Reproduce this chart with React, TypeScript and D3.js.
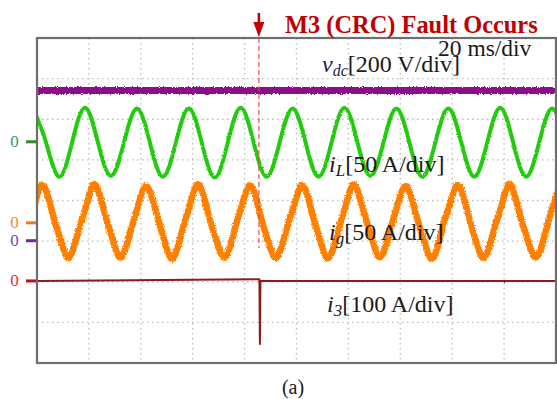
import React from "react";
import * as d3 from "d3";

// ---------- data ----------
// time axis: 10 divisions x 20 ms
const timeDomainMs = [0, 200];
const gridTimesMs = [20, 40, 60, 80, 100, 120, 140, 160, 180];
const gridDivs = [-3, -2, -1, 0, 1, 2, 3];
const faultTimeMs = 85.5;

// v_dc [V], 200 V/div
const vdcTimes = [0, 200];
const vdcValues = [740, 740];

// i_L [A], 50 A/div (peaks / zero crossings / troughs)
const iLTimes = [-1.5, 3.5, 8.5, 13.5, 18.5, 23.5, 28.5, 33.5, 38.5, 43.5, 48.5, 53.5, 58.5, 63.5, 68.5, 73.5, 78.5, 83.5, 88.5, 93.5, 98.5, 103.5, 108.5, 113.5, 118.5, 123.5, 128.5, 133.5, 138.5, 143.5, 148.5, 153.5, 158.5, 163.5, 168.5, 173.5, 178.5, 183.5, 188.5, 193.5, 198.5, 203.5];
const iLValues = [41, -1, -43, -1, 42, -1, -42, -1, 41, -1, -43, -1, 41, -1, -44, -1, 42, -1, -43, -1, 41, -1, -43, -1, 42, -1, -42, -1, 41, -1, -43, -1, 41, -1, -43, -1, 42, -1, -43, -1, 41, -1];

// i_g [A], 50 A/div (eighth-period samples)
const igTimes = [-0.8, 1.7, 4.2, 6.7, 9.2, 11.7, 14.2, 16.7, 19.2, 21.7, 24.2, 26.7, 29.2, 31.7, 34.2, 36.7, 39.2, 41.7, 44.2, 46.7, 49.2, 51.7, 54.2, 56.7, 59.2, 61.7, 64.2, 66.7, 69.2, 71.7, 74.2, 76.7, 79.2, 81.7, 84.2, 86.7, 89.2, 91.7, 94.2, 96.7, 99.2, 101.7, 104.2, 106.7, 109.2, 111.7, 114.2, 116.7, 119.2, 121.7, 124.2, 126.7, 129.2, 131.7, 134.2, 136.7, 139.2, 141.7, 144.2, 146.7, 149.2, 151.7, 154.2, 156.7, 159.2, 161.7, 164.2, 166.7, 169.2, 171.7, 174.2, 176.7, 179.2, 181.7, 184.2, 186.7, 189.2, 191.7, 194.2, 196.7, 199.2, 201.7];
const igValues = [24,
  46, 33, 3, -22, -43, -30, -2, 23,
  47, 34, 5, -21, -42, -31, -3, 24,
  45, 32, 4, -23, -44, -30, -1, 25,
  47, 33, 3, -22, -42, -31, -2, 24,
  46, 33, 2, -24, -43, -30, -2, 23,
  46, 34, 4, -22, -43, -31, -3, 24,
  47, 33, 5, -21, -42, -30, -2, 25,
  45, 32, 3, -22, -44, -31, -1, 24,
  46, 34, 4, -23, -43, -30, -2, 23,
  47, 33, 3, -22, -42, -31, -3, 24,
  46];

// i_3 [A], 100 A/div
const i3Times = [0, 85.7, 85.9, 86.1, 200];
const i3Values = [0, 4, -155, 0, 0];

// ---------- layout ----------
const W = 557;
const H = 399;
const L = 37;
const R = 556;
const T = 38;
const B = 363;

const x = d3.scaleLinear().domain(timeDomainMs).range([L, R]);
const yDiv = d3.scaleLinear().domain([-4, 4]).range([B, T]);

type Ch = { t: number[]; v: number[]; offset: number; perDiv: number; color: string; width: number; noise: number; curve: any };
const channels: Ch[] = [
  { t: vdcTimes, v: vdcValues, offset: -0.99, perDiv: 200, color: "#8a0a8a", width: 7, noise: 3, curve: d3.curveLinear },
  { t: iLTimes, v: iLValues, offset: 1.445, perDiv: 50, color: "#22cc11", width: 4, noise: 2.2, curve: d3.curveNatural },
  { t: igTimes, v: igValues, offset: -0.55, perDiv: 50, color: "#ff8000", width: 6.5, noise: 3.4, curve: d3.curveNatural },
  { t: i3Times, v: i3Values, offset: -1.98, perDiv: 100, color: "#8b1a1a", width: 2, noise: 1.5, curve: d3.curveLinear },
];

const zeroMarks = [
  { offset: 1.445, text: "#3a9a5a", line: "#2e8b2e" },
  { offset: -0.55, text: "#f08a3a", line: "#f07a20" },
  { offset: -0.99, text: "#7a3fb0", line: "#6a2aa0" },
  { offset: -1.98, text: "#e03030", line: "#c01010" },
];

function pathFor(ch: Ch) {
  const pts = ch.t.map((t, i) => [t, ch.v[i]] as [number, number]);
  const line = d3
    .line<[number, number]>()
    .x((d) => x(d[0]))
    .y((d) => yDiv(ch.offset + d[1] / ch.perDiv))
    .curve(ch.curve);
  return line(pts) || "";
}

const serif = "'Liberation Serif', 'Times New Roman', serif";

export default function App() {
  const fx = x(faultTimeMs);
  return (
    <svg width={W} height={H} style={{ position: "absolute", left: 0, top: 0, background: "#fff" }} fontFamily={serif}>
      <defs>
        <clipPath id="plotClip">
          <rect x={L} y={T} width={R - L} height={B - T} />
        </clipPath>
        {channels.map((ch, i) => (
          <filter key={i} id={`noise${i}`} filterUnits="userSpaceOnUse" x={0} y={0} width={W} height={H}>
            <feTurbulence type="fractalNoise" baseFrequency="0.9" numOctaves={2} seed={i + 2} result="n" />
            <feDisplacementMap in="SourceGraphic" in2="n" scale={ch.noise} xChannelSelector="R" yChannelSelector="G" />
          </filter>
        ))}
      </defs>

      {/* grid */}
      <g stroke="#bdbdbd" strokeWidth={1.3} strokeDasharray="1.5 3.5">
        {gridTimesMs.map((t) => (
          <line key={t} x1={x(t)} x2={x(t)} y1={T} y2={B} />
        ))}
        {gridDivs.map((d) => (
          <line key={d} x1={L} x2={R} y1={yDiv(d)} y2={yDiv(d)} />
        ))}
      </g>

      {/* traces */}
      <g clipPath="url(#plotClip)">
        {channels.map((ch, i) => (
          <path key={i} d={pathFor(ch)} fill="none" stroke={ch.color} strokeWidth={ch.width} strokeLinejoin="round" filter={`url(#noise${i})`} />
        ))}
      </g>

      {/* fault marker */}
      <line x1={fx} x2={fx} y1={T} y2={248} stroke="#e0484f" strokeWidth={1.4} strokeDasharray="5 3" opacity={0.8} />
      <line x1={fx} x2={fx} y1={13} y2={25} stroke="#c00000" strokeWidth={2.5} />
      <path d={`M${fx - 5.5},${22} L${fx + 5.5},${22} L${fx},${37} Z`} fill="#c00000" />

      {/* frame */}
      <rect x={L} y={T} width={R - L} height={B - T} fill="none" stroke="#6e6e6e" strokeWidth={2.2} />

      {/* zero markers */}
      {zeroMarks.map((m, i) => (
        <g key={i}>
          <line x1={26} x2={36} y1={yDiv(m.offset)} y2={yDiv(m.offset)} stroke={m.line} strokeWidth={3} />
          <text x={14.5} y={yDiv(m.offset) + 5.5} fontSize={17} fill={m.text} textAnchor="middle">0</text>
        </g>
      ))}

      {/* labels */}
      <text x={285} y={33} fontSize={24.4} fontWeight="bold" fill="#c00000">M3 (CRC) Fault Occurs</text>
      <text x={438} y={56} fontSize={23.5} fill="#1a1a1a">20 ms/div</text>
      <text x={322} y={72} fontSize={24} fill="#1a1a1a">
        <tspan fontStyle="italic" fill="#1b2050">v</tspan>
        <tspan fontStyle="italic" fontSize={16} dy={4} fill="#1b2050">dc</tspan>
        <tspan dy={-4}>[200 V/div]</tspan>
      </text>
      <text x={329} y={172} fontSize={24} fill="#1a1a1a">
        <tspan fontStyle="italic">i</tspan>
        <tspan fontStyle="italic" fontSize={17} dy={4}>L</tspan>
        <tspan dy={-4}>[50 A/div]</tspan>
      </text>
      <text x={329} y={240} fontSize={24} fill="#1a1a1a">
        <tspan fontStyle="italic">i</tspan>
        <tspan fontStyle="italic" fontSize={17} dy={4}>g</tspan>
        <tspan dy={-4}>[50 A/div]</tspan>
      </text>
      <text x={327} y={312} fontSize={24} fill="#1a1a1a">
        <tspan fontStyle="italic">i</tspan>
        <tspan fontStyle="italic" fontSize={17} dy={4}>3</tspan>
        <tspan dy={-4}>[100 A/div]</tspan>
      </text>
      <text x={293} y={394} fontSize={20} fill="#1a1a1a" textAnchor="middle">(a)</text>
    </svg>
  );
}
